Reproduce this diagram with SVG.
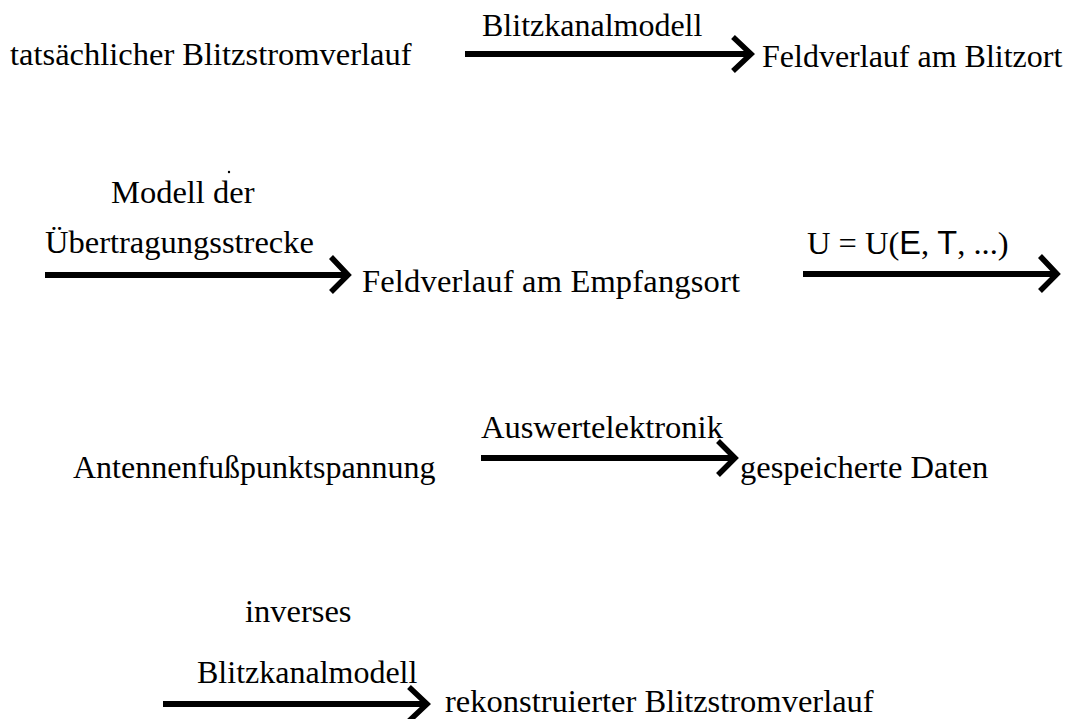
<svg xmlns="http://www.w3.org/2000/svg" width="1077" height="719" viewBox="0 0 1077 719">
<style>
text{font-family:"Liberation Serif","Times New Roman",serif;font-size:32.5px;fill:#000}
.lbl{font-size:32px}
.sans{font-family:"Liberation Sans",Arial,sans-serif}
.ln{stroke:#000;stroke-width:6;fill:none}
.hd{stroke:#000;stroke-width:5.5;fill:none;stroke-linejoin:miter}
</style>
<rect width="1077" height="719" fill="#fff"/>
<g id="n1"><text x="10" y="65">tatsächlicher Blitzstromverlauf</text></g>
<g id="n2"><text x="762" y="67" class="lbl">Feldverlauf am Blitzort</text></g>
<g id="n3"><text x="362" y="292" textLength="378">Feldverlauf am Empfangsort</text></g>
<g id="n4"><text x="73" y="478" class="lbl">Antennenfußpunktspannung</text></g>
<g id="n5"><text x="740" y="478">gespeicherte Daten</text></g>
<g id="n6"><text x="445" y="712">rekonstruierter Blitzstromverlauf</text></g>
<g id="connectors">
<g id="c1"><line class="ln" x1="465" y1="54" x2="749" y2="54"/><polyline class="hd" points="733,37 751,54 733,71"/><text x="482" y="36" class="lbl">Blitzkanalmodell</text></g>
<g id="c2"><line class="ln" x1="45" y1="275" x2="346" y2="275"/><polyline class="hd" points="331,257 348,275 331,292"/><text x="111" y="203">Modell der</text><circle cx="229" cy="172" r="1.2" fill="#000"/><text x="45" y="253">Übertragungsstrecke</text></g>
<g id="c3"><line class="ln" x1="803" y1="274" x2="1055" y2="274"/><polyline class="hd" points="1040,256 1057,274 1040,291"/><text x="807" y="254">U = U(<tspan class="sans">E</tspan>, <tspan class="sans">T</tspan>, ...)</text></g>
<g id="c4"><line class="ln" x1="481" y1="458" x2="733" y2="458"/><polyline class="hd" points="718,441 735,458 718,475"/><text x="481" y="438">Auswertelektronik</text></g>
<g id="c5"><line class="ln" x1="163" y1="704" x2="425" y2="704"/><polyline class="hd" points="409,687 427,704 409,721"/><text x="245" y="622">inverses</text><text x="197" y="683" class="lbl">Blitzkanalmodell</text></g>
</g>
</svg>
